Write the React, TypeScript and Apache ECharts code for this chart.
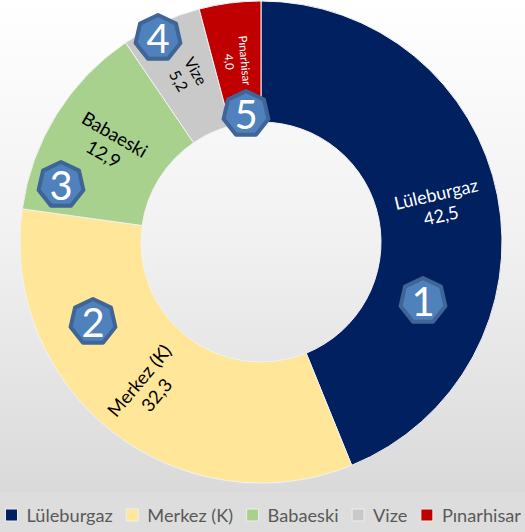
import React, { useEffect, useRef } from "react";
import * as echarts from "echarts";

const categories = ["Lüleburgaz", "Merkez (K)", "Babaeski", "Vize", "Pınarhisar"];
const values = [42.5, 32.3, 12.9, 5.2, 4.0];
const colors = ["#002060", "#FFE699", "#A9D18E", "#C9C9C9", "#C00000"];
const labelColors = ["#ffffff", "#000000", "#000000", "#000000", "#ffffff"];
const labelRotate = [13, 50, -30, -60, -85];
const labelSizes = [18, 18.5, 18.5, 15.5, 11.5];
const labelOffsets = [[-2, -3], [-1, 0], [3, -3], [2, -2], [1, 0]];
const badges = [
  { n: "1", x: 423, y: 301 },
  { n: "2", x: 93, y: 322 },
  { n: "3", x: 61, y: 185 },
  { n: "4", x: 158, y: 38 },
  { n: "5", x: 246, y: 114 },
];
const FONT = "Lato, 'Open Sans', sans-serif";

function heptagon(r: number) {
  const pts: number[][] = [];
  for (let i = 0; i < 7; i++) {
    const a = -Math.PI / 2 + (i * 2 * Math.PI) / 7;
    pts.push([r * Math.cos(a), r * Math.sin(a)]);
  }
  return pts;
}

export default function App() {
  const ref = useRef<HTMLDivElement>(null);
  useEffect(() => {
    document.body.style.margin = "0";
    const chart = echarts.init(ref.current!, null, { renderer: "svg" });
    chart.setOption({
      animation: false,
      backgroundColor: new echarts.graphic.LinearGradient(0, 0, 0, 1, [
        { offset: 0, color: "#ffffff" },
        { offset: 0.45, color: "#f1f1f1" },
        { offset: 1, color: "#d6d6d6" },
      ]),
      legend: {
        left: 5,
        top: 506,
        itemWidth: 12,
        itemHeight: 12,
        itemGap: 13,
        icon: "rect",
        padding: 0,
        selectedMode: false,
        data: categories,
        itemStyle: { borderColor: "#eeeeee", borderWidth: 1 },
        textStyle: { color: "#595959", fontSize: 18.2, fontFamily: FONT, padding: [0, 0, 0, 4] },
      },
      graphic: [
        {
          type: "rect",
          z: -1,
          silent: true,
          shape: { x: 0, y: 492, width: 525, height: 40 },
          style: { fill: "#dddddd" },
        },
        ...badges.map((b) => ({
          type: "group",
          x: b.x,
          y: b.y,
          z: 100,
          children: [
            {
              type: "polygon",
              z: 100,
              shape: { points: heptagon(23) },
              style: { fill: "#4F81BD", stroke: "#3E6595", lineWidth: 4, lineJoin: "round" },
            },
            {
              type: "text",
              z: 101,
              style: {
                text: b.n,
                x: 0,
                y: 0,
                align: "center",
                verticalAlign: "middle",
                fill: "#ffffff",
                fontSize: 40,
                fontFamily: FONT,
              },
            },
          ],
        })),
      ],
      series: [
        {
          type: "pie",
          center: [261, 242],
          radius: [120, 241],
          startAngle: 90,
          clockwise: true,
          avoidLabelOverlap: false,
          label: { position: "inside" },
          labelLine: { show: false },
          itemStyle: { borderColor: "#f2f2f2", borderWidth: 1 },
          data: categories.map((name, i) => ({
            name,
            value: values[i],
            itemStyle: { color: colors[i] },
            label: {
              show: true,
              position: "inside",
              formatter: name + "\n" + values[i].toFixed(1).replace(".", ","),
              color: labelColors[i],
              fontSize: labelSizes[i],
              lineHeight: labelSizes[i] + 4,
              fontFamily: FONT,
              rotate: labelRotate[i],
              align: "center",
              offset: labelOffsets[i],
            },
          })),
        },
      ],
    });
    return () => chart.dispose();
  }, []);
  return <div ref={ref} style={{ width: 525, height: 532 }} />;
}
